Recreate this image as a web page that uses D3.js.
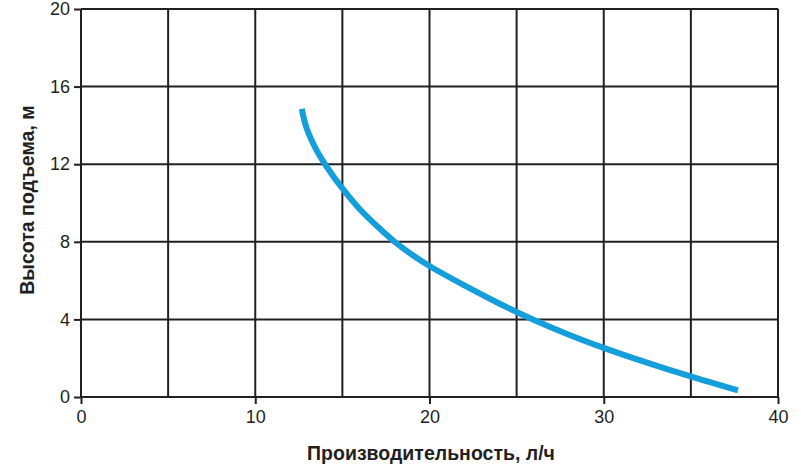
<!DOCTYPE html>
<html>
<head>
  <meta charset="utf-8">
  <script src="https://cdn.jsdelivr.net/npm/d3@7"></script>
  <style>
    body { margin: 0; background: #fff; }
    text { font-family: "Liberation Sans", Arial, sans-serif; }
  </style>
</head>
<body>
  <svg id="chart" width="801" height="470"></svg>
  <script>
    // Производительность (л/ч) и высота подъема (м)
    const flow = [12.67, 12.95, 13.5, 14.1, 15, 16, 17, 18, 19, 20, 22, 24, 26, 28, 30, 32, 34, 36, 37.7];
    const head = [14.85, 13.85, 12.75, 11.87, 10.75, 9.68, 8.8, 8.0, 7.33, 6.75, 5.75, 4.82, 3.97, 3.21, 2.53, 1.91, 1.33, 0.79, 0.34];
    const xTicks = [0, 10, 20, 30, 40];
    const yTicks = [0, 4, 8, 12, 16, 20];
    const xGrid = [0, 5, 10, 15, 20, 25, 30, 35, 40];

    const svg = d3.select("#chart");
    const x = d3.scaleLinear().domain([0, 40]).range([81, 778]);
    const y = d3.scaleLinear().domain([0, 20]).range([397, 9]);
    const ink = "#231f20";

    // сетка
    svg.append("g").selectAll("line").data(xGrid).enter().append("line")
      .attr("x1", d => x(d)).attr("x2", d => x(d))
      .attr("y1", y(20)).attr("y2", y(0))
      .attr("stroke", ink).attr("stroke-width", 2);
    svg.append("g").selectAll("line").data(yTicks).enter().append("line")
      .attr("x1", x(0)).attr("x2", x(40))
      .attr("y1", d => y(d)).attr("y2", d => y(d))
      .attr("stroke", ink).attr("stroke-width", 2);

    // оси
    const xAxis = svg.append("g").attr("transform", `translate(0,${y(0)})`)
      .call(d3.axisBottom(x).tickValues(xTicks).tickSize(7).tickPadding(6));
    const yAxis = svg.append("g").attr("transform", `translate(${x(0)},0)`)
      .call(d3.axisLeft(y).tickValues(yTicks).tickSize(7).tickPadding(4));
    [xAxis, yAxis].forEach(g => {
      g.select(".domain").remove();
      g.selectAll("line").attr("stroke", ink).attr("stroke-width", 2);
      g.selectAll("text").attr("font-size", 18).attr("fill", ink)
        .attr("font-family", "Liberation Sans, Arial, sans-serif");
    });

    // кривая
    const line = d3.line()
      .x((d, i) => x(flow[i]))
      .y(d => y(d))
      .curve(d3.curveCatmullRom.alpha(0.5));
    svg.append("path")
      .datum(head)
      .attr("d", line)
      .attr("fill", "none")
      .attr("stroke", "#149edb")
      .attr("stroke-width", 6);

    // подписи осей
    svg.append("text")
      .attr("x", 431).attr("y", 460)
      .attr("text-anchor", "middle")
      .attr("font-size", 19.5).attr("font-weight", "bold").attr("fill", ink)
      .text("Производительность, л/ч");
    svg.append("text")
      .attr("transform", "translate(34,200) rotate(-90)")
      .attr("text-anchor", "middle")
      .attr("font-size", 19.5).attr("font-weight", "bold").attr("fill", ink)
      .text("Высота подъема, м");
  </script>
</body>
</html>
